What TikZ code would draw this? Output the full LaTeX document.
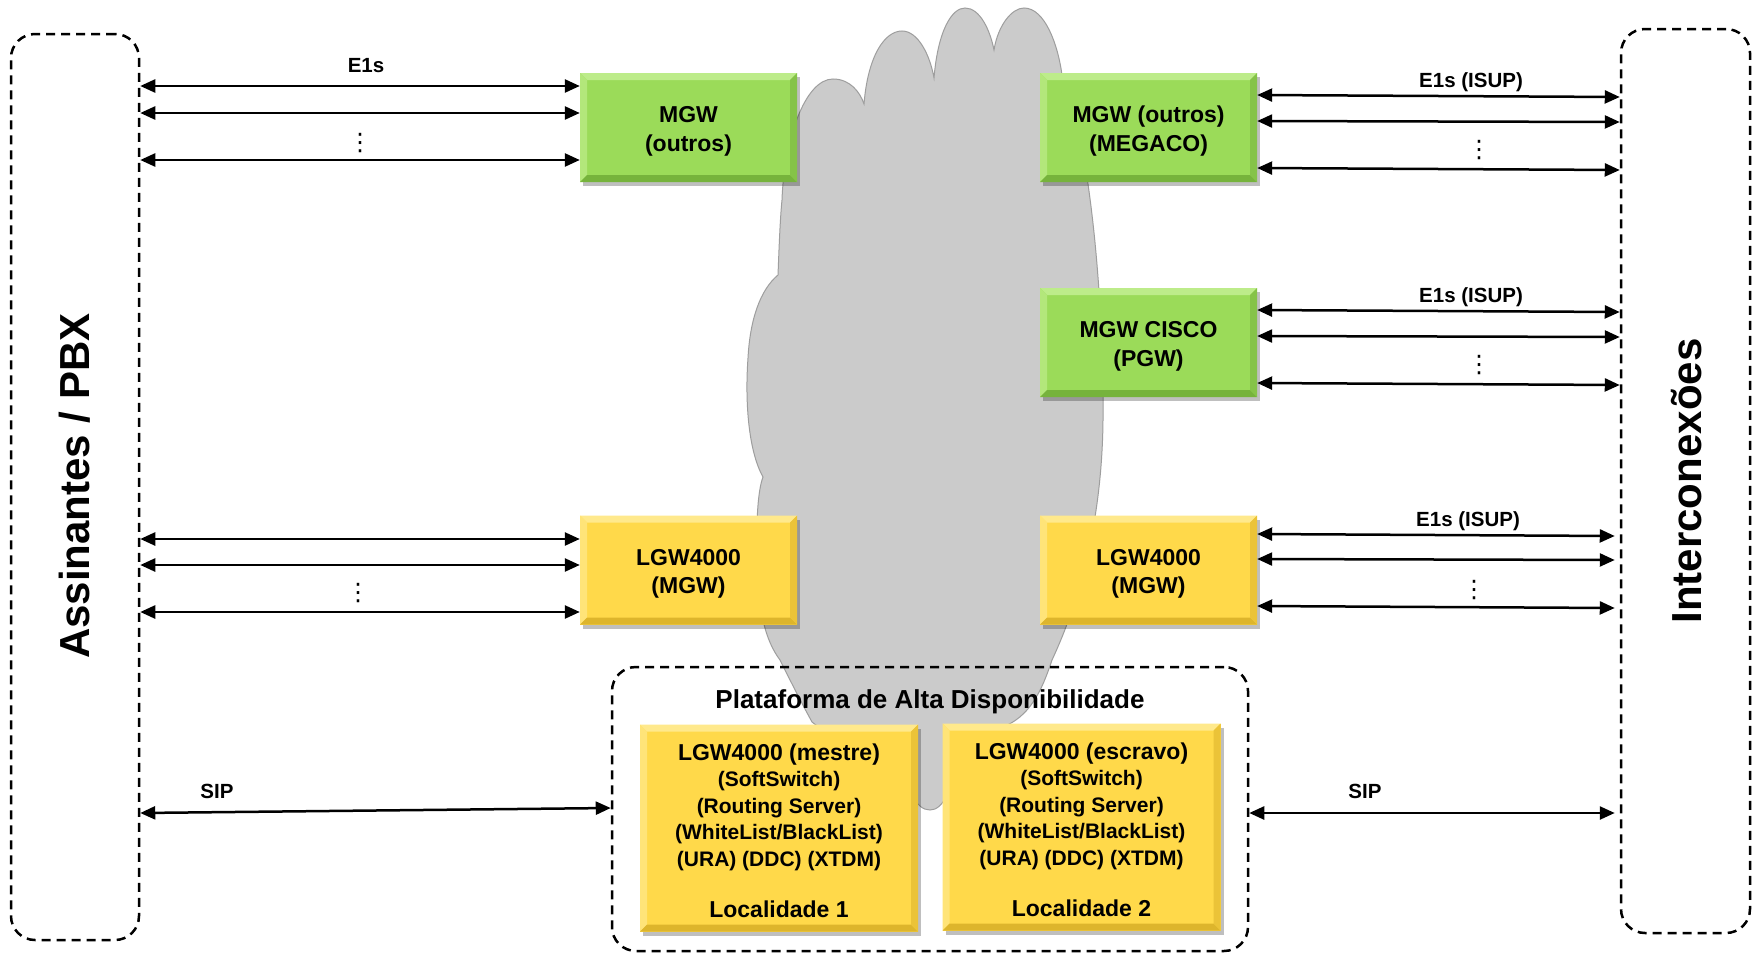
\documentclass[tikz,border=0pt]{standalone}
\usepackage{fontspec}
\setmainfont{Liberation Sans}
\newfontfamily\dotsfont{DejaVu Sans}
\usetikzlibrary{arrows.meta,calc}
\definecolor{gfill}{HTML}{9BDB59}
\definecolor{glight}{HTML}{BDEC8A}
\definecolor{gdark}{HTML}{76B33C}
\definecolor{yfill}{HTML}{FFD94A}
\definecolor{ylight}{HTML}{FFE98C}
\definecolor{ydark}{HTML}{DDB52C}
\definecolor{cloudgray}{HTML}{CBCBCB}
\tikzset{
  bevel/.style n args={3}{fill=#1, path picture={
    \coordinate (bvA) at (path picture bounding box.north west);
    \coordinate (bvB) at (path picture bounding box.north east);
    \coordinate (bvC) at (path picture bounding box.south east);
    \coordinate (bvD) at (path picture bounding box.south west);
    \fill[#2] (bvA) -- (bvB) -- ([shift={(-7pt,-7pt)}]bvB) -- ([shift={(7pt,-7pt)}]bvA) -- cycle;
    \fill[#2!70!#1] (bvA) -- ([shift={(7pt,-7pt)}]bvA) -- ([shift={(7pt,7pt)}]bvD) -- (bvD) -- cycle;
    \fill[#3] (bvD) -- ([shift={(7pt,7pt)}]bvD) -- ([shift={(-7pt,7pt)}]bvC) -- (bvC) -- cycle;
    \fill[#3!60!#1] (bvB) -- (bvC) -- ([shift={(-7pt,7pt)}]bvC) -- ([shift={(-7pt,-7pt)}]bvB) -- cycle;
  }},
  boxshadow/.style={preaction={fill=black, fill opacity=0.25, transform canvas={shift={(3pt,-4pt)}}}},
  gbox/.style={rectangle, inner sep=0pt, minimum width=217pt, minimum height=109pt,
    bevel={gfill}{glight}{gdark}, boxshadow},
  ybox/.style={rectangle, inner sep=0pt, minimum width=217pt, minimum height=109pt,
    bevel={yfill}{ylight}{ydark}, boxshadow},
  bigbox/.style={rectangle, inner sep=0pt, minimum width=278pt, minimum height=207pt,
    bevel={yfill}{ylight}{ydark}, boxshadow},
  gtext/.style={inner sep=0pt, align=center, font=\bfseries\fontsize{23}{29}\selectfont},
  ytext/.style={inner sep=0pt, align=center, font=\bfseries\fontsize{23}{28}\selectfont},
  btext/.style={inner sep=0pt, align=center, font=\bfseries\fontsize{21}{26.5}\selectfont},
  dashbox/.style={rectangle, rounded corners=24pt, draw=black, line width=2.5pt,
    dash pattern=on 9pt off 6pt, inner sep=0pt},
  biarr/.style={{Triangle[length=15pt,width=13pt]}-{Triangle[length=15pt,width=13pt]}, line width=2.5pt},
  lbl/.style={font=\bfseries\fontsize{20.5}{24}\selectfont, inner sep=0pt},
  vdot/.style={font=\dotsfont\fontsize{24}{24}\selectfont, inner sep=0pt},
  side/.style={font=\bfseries\fontsize{42}{42}\selectfont, rotate=90, inner sep=0pt},
  cloud/.style={fill=cloudgray, draw=black!38, line width=1pt},
}
\begin{document}
\begin{tikzpicture}[x=1pt,y=-1pt]
\useasboundingbox (0,0) rectangle (1754,953);
\fill[white] (0,0) rectangle (1754,953);

% cloud
\path[cloud] (782,200)
  .. controls (784,140) and (805,79) .. (833,79)
  .. controls (850,79) and (860,92) .. (864,104)
  .. controls (868,55) and (885,31) .. (902,31)
  .. controls (918,31) and (930,55) .. (934,78)
  .. controls (938,30) and (952,8) .. (965,8)
  .. controls (980,8) and (990,30) .. (994,50)
  .. controls (998,25) and (1012,8) .. (1024,8)
  .. controls (1045,8) and (1058,45) .. (1062,75)
  .. controls (1090,140) and (1104,300) .. (1103,420)
  .. controls (1102,520) and (1080,600) .. (1052,660)
  .. controls (1042,690) and (1030,718) .. (1000,728)
  .. controls (985,735) and (965,740) .. (956,745)
  .. controls (954,790) and (943,810) .. (930,810)
  .. controls (916,810) and (905,790) .. (903,745)
  .. controls (880,740) and (830,738) .. (812,722)
  .. controls (800,700) and (790,680) .. (780,660)
  .. controls (765,640) and (758,610) .. (757,560)
  .. controls (756,520) and (758,490) .. (763,477)
  .. controls (748,450) and (745,400) .. (748,358)
  .. controls (750,320) and (760,290) .. (778,275)
  .. controls (779,250) and (780,220) .. (782,200) -- cycle;

% side boxes
\node[dashbox, minimum width=128pt, minimum height=906pt] (assin) at (75,487) {};
\node[dashbox, minimum width=129pt, minimum height=904pt] (inter) at (1685.5,481) {};
\node[side] (assintxt) at (75,486) {Assinantes / PBX};
\node[side] (intertxt) at (1687,481) {Interconexões};

% platform box
\node[dashbox, minimum width=636pt, minimum height=284pt] (plat) at (930,809) {};
\node[font=\bfseries\fontsize{26}{30}\selectfont, inner sep=0pt] (plattxt) at (930,702) {Plataforma de Alta Disponibilidade};

% gateways
\node[gbox] (m1) at (688.5,127.5) {};
\node[gtext] (m1t) at ([yshift=-4pt]m1.center) {MGW\\(outros)};
\node[gbox] (m2) at (1148.5,127.5) {};
\node[gtext] (m2t) at ([yshift=-4pt]m2.center) {MGW (outros)\\(MEGACO)};
\node[gbox] (m3) at (1148.5,342.5) {};
\node[gtext] (m3t) at ([yshift=-4pt]m3.center) {MGW CISCO\\(PGW)};
\node[ybox] (l1) at (688.5,570) {};
\node[ytext] (l1t) at ([yshift=-4pt]l1.center) {LGW4000\\(MGW)};
\node[ybox] (l2) at (1148.5,570) {};
\node[ytext] (l2t) at ([yshift=-4pt]l2.center) {LGW4000\\(MGW)};
\node[bigbox] (ms) at (779,828) {};
\node[btext] (mst) at ([yshift=-3pt]ms.center) {{\fontsize{23}{26.5}\selectfont LGW4000 (mestre)}\\(SoftSwitch)\\(Routing Server)\\(WhiteList/BlackList)\\(URA) (DDC) (XTDM)\\[25pt]{\fontsize{23}{26.5}\selectfont Localidade 1}};
\node[bigbox] (es) at (1081.5,827) {};
\node[btext] (est) at ([yshift=-3pt]es.center) {{\fontsize{23}{26.5}\selectfont LGW4000 (escravo)}\\(SoftSwitch)\\(Routing Server)\\(WhiteList/BlackList)\\(URA) (DDC) (XTDM)\\[25pt]{\fontsize{23}{26.5}\selectfont Localidade 2}};

% left arrows
\draw[biarr] (assin.east |- 0,86) -- (m1.west |- 0,86);
\draw[biarr] (assin.east |- 0,113) -- (m1.west |- 0,113);
\draw[biarr] (assin.east |- 0,160) -- (m1.west |- 0,160);
\node[lbl] (e1a) at (366,66) {E1s};
\node[vdot] (d1) at (360,143) {⋮};

\draw[biarr] (assin.east |- 0,539) -- (l1.west |- 0,539);
\draw[biarr] (assin.east |- 0,565) -- (l1.west |- 0,565);
\draw[biarr] (assin.east |- 0,612) -- (l1.west |- 0,612);
\node[vdot] (d2) at (358,593) {⋮};

\draw[biarr] (assin.east |- 0,813) -- (plat.west |- 0,808);
\node[lbl] (sip1) at (217,791) {SIP};

% right arrows
\draw[biarr] (m2.east |- 0,95) -- (inter.west |- 0,97);
\draw[biarr] (m2.east |- 0,121) -- (inter.west |- 0,122);
\draw[biarr] (m2.east |- 0,168) -- (inter.west |- 0,170);
\node[lbl] (e1b) at (1471,82) {E1s (ISUP)};
\node[vdot] (d3) at (1479,150) {⋮};

\draw[biarr] (m3.east |- 0,310) -- (inter.west |- 0,312);
\draw[biarr] (m3.east |- 0,336) -- (inter.west |- 0,337);
\draw[biarr] (m3.east |- 0,383) -- (inter.west |- 0,385);
\node[lbl] (e1c) at (1471,297) {E1s (ISUP)};
\node[vdot] (d4) at (1479,365) {⋮};

\draw[biarr] (l2.east |- 0,534) -- ([xshift=-5pt]inter.west |- 0,536);
\draw[biarr] (l2.east |- 0,559) -- ([xshift=-5pt]inter.west |- 0,560);
\draw[biarr] (l2.east |- 0,606) -- ([xshift=-5pt]inter.west |- 0,608);
\node[lbl] (e1d) at (1468,521) {E1s (ISUP)};
\node[vdot] (d5) at (1474,590) {⋮};

\draw[biarr] (plat.east |- 0,813) -- ([xshift=-5pt]inter.west |- 0,813);
\node[lbl] (sip2) at (1365,791) {SIP};
\end{tikzpicture}
\end{document}
